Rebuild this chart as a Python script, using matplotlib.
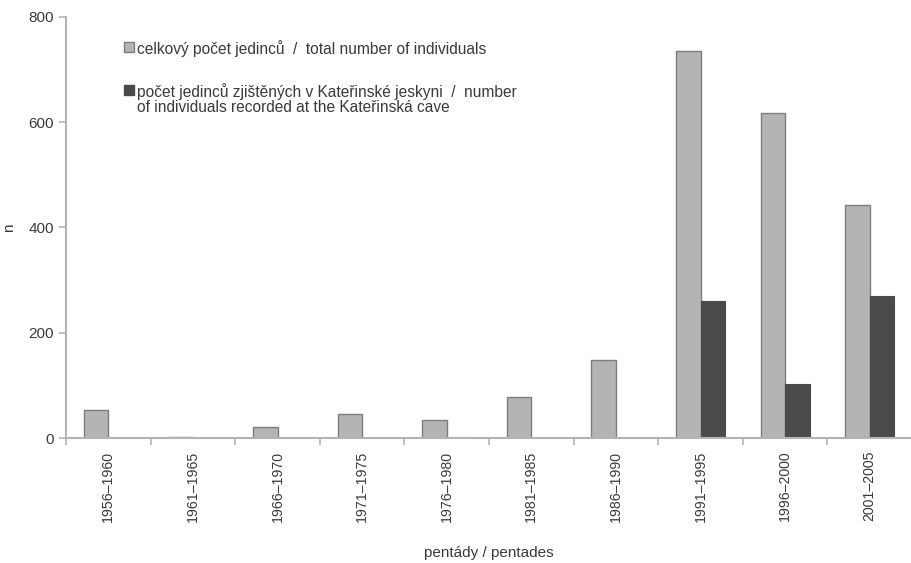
import matplotlib.pyplot as plt
import numpy as np
from matplotlib.patches import Rectangle

plt.rcParams['font.family'] = ['Liberation Sans', 'DejaVu Sans']

pentades = ['1956–1960', '1961–1965', '1966–1970', '1971–1975', '1976–1980',
            '1981–1985', '1986–1990', '1991–1995', '1996–2000', '2001–2005']
total = [53, 2, 21, 46, 34, 77, 148, 736, 617, 442]
cave = [0, 0, 0, 0, 2, 0, 0, 261, 103, 270]
labels = ['celkový počet jedinců  /  total number of individuals',
          'počet jedinců zjištěných v Kateřinské jeskyni  /  number\n'
          'of individuals recorded at the Kateřinská cave']

light = '#b3b4b6'
dark = '#4a4a4c'
edge = '#7d7d7d'
axis_grey = '#b4b4b4'
text_col = '#3a3a3a'

x = np.arange(len(pentades))
width = 0.29

fig = plt.figure(figsize=(9.12, 5.63), dpi=100)
ax = fig.add_axes([0.0724, 0.222, 0.9276, 0.748])

ax.bar(x - width / 2, total, width, color=light, edgecolor=edge, linewidth=1.0)
ax.bar(x + width / 2, cave, width, color=dark, edgecolor=dark, linewidth=0.8)

ax.set_xlim(-0.5, 9.5)
ax.set_ylim(0, 800)
ax.set_yticks([0, 200, 400, 600, 800])
ax.set_xticks(x)
ax.set_xticklabels(pentades, rotation=90, fontsize=10.2, color=text_col)
ax.set_xticks(np.arange(-0.5, 10, 1), minor=True)
ax.tick_params(axis='x', which='major', length=0, pad=9)
ax.tick_params(axis='x', which='minor', length=5, color=axis_grey, width=1.2)
ax.tick_params(axis='y', length=5, color=axis_grey, width=1.2, labelsize=11,
               labelcolor=text_col)

for s in ['top', 'right']:
    ax.spines[s].set_visible(False)
for s in ['left', 'bottom']:
    ax.spines[s].set_color(axis_grey)
    ax.spines[s].set_linewidth(1.5)

ax.set_ylabel('n', fontsize=11, color=text_col, labelpad=9)
ax.set_xlabel('pentády / pentades', fontsize=11, color=text_col, va='center')
ax.xaxis.set_label_coords(0.5, (438 - 553) / 421)

# legend drawn by hand to keep the two-line label aligned like the original
def px(xp, yp):
    return ((xp - 66) / 846, (438 - yp) / 421)

for (yp, col, ec, lab) in [(47, light, edge, labels[0]), (90, dark, dark, labels[1])]:
    x0, y0 = px(124, yp + 5)
    ax.add_patch(Rectangle((x0, y0), 9.5 / 846, 10 / 421, transform=ax.transAxes,
                           facecolor=col, edgecolor=ec, linewidth=1.0, clip_on=False))
    tx, ty = px(137, yp - 7)
    ax.text(tx, ty, lab, transform=ax.transAxes, fontsize=11.2, color=text_col,
            va='top', ha='left', linespacing=1.0)

fig.savefig('out.png', dpi=100)
